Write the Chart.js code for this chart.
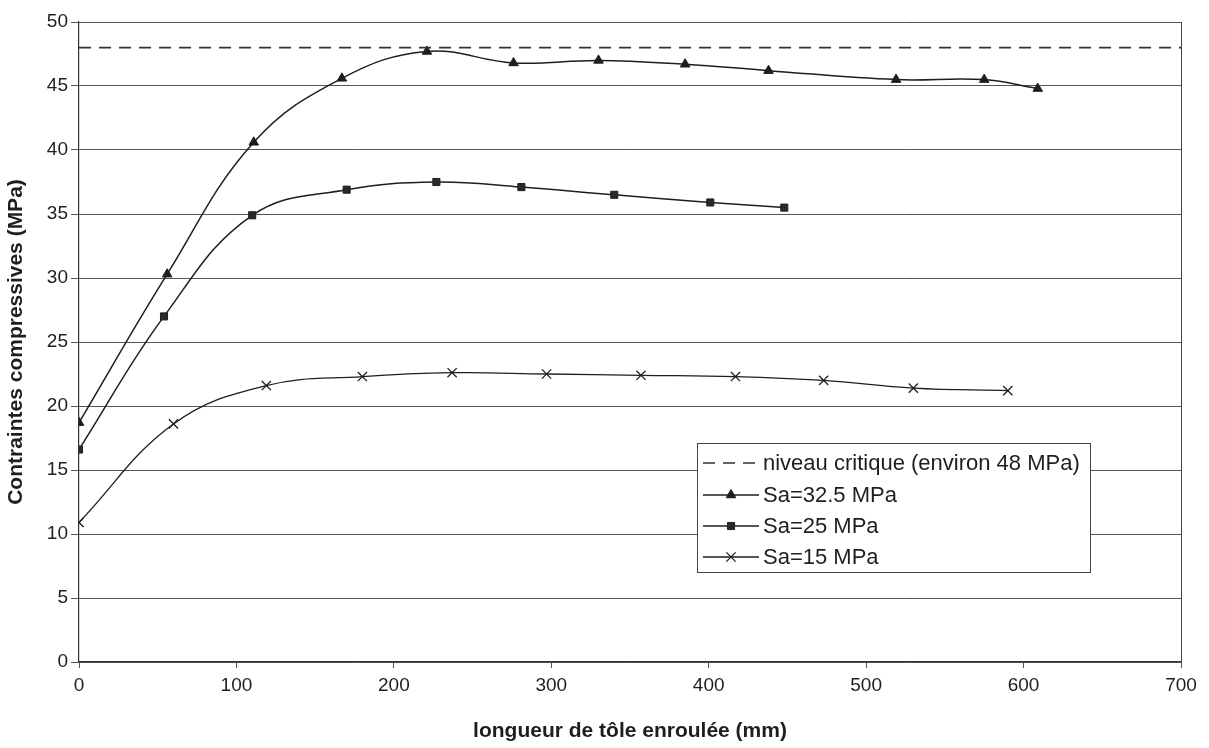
<!DOCTYPE html>
<html>
<head>
<meta charset="utf-8">
<script src="https://cdn.jsdelivr.net/npm/chart.js@4/dist/chart.umd.min.js"></script>
<style>
  html, body { margin: 0; padding: 0; background: #fff; }
  #wrap { width: 1209px; height: 748px; position: relative; }
</style>
</head>
<body>
<div id="wrap"><canvas id="c" width="1209" height="748"></canvas></div>
<script>
// ---- data ----
const critX = [0, 700];
const critY = [48, 48];
const sa325X = [0, 56, 111, 167, 221, 276, 330, 385, 438, 519, 575, 609];
const sa325Y = [18.7, 30.3, 40.6, 45.6, 47.7, 46.8, 47.0, 46.7, 46.2, 45.5, 45.5, 44.8];
const sa25X = [0, 54, 110, 170, 227, 281, 340, 401, 448];
const sa25Y = [16.6, 27.0, 34.9, 36.9, 37.5, 37.1, 36.5, 35.9, 35.5];
const sa15X = [0, 60, 119, 180, 237, 297, 357, 417, 473, 530, 590];
const sa15Y = [10.9, 18.6, 21.6, 22.3, 22.6, 22.5, 22.4, 22.3, 22.0, 21.4, 21.2];
const seriesLabels = ['niveau critique (environ 48 MPa)', 'Sa=32.5 MPa', 'Sa=25 MPa', 'Sa=15 MPa'];
const xTitle = 'longueur de tôle enroulée (mm)';
const yTitle = 'Contraintes compressives (MPa)';

const pts = (xs, ys) => xs.map((x, i) => ({ x: x, y: ys[i] }));
const FONT = "'Liberation Sans', Arial, sans-serif";
const INK = '#1e1e1e';

const legendPlugin = {
  id: 'boxLegend',
  afterDraw(chart) {
    const ctx = chart.ctx;
    const bx = 697, by = 443, bw = 393, bh = 129;
    ctx.save();
    ctx.fillStyle = '#fff';
    ctx.fillRect(bx, by, bw, bh);
    ctx.strokeStyle = '#444';
    ctx.lineWidth = 1;
    ctx.strokeRect(bx + 0.5, by + 0.5, bw, bh);
    const rows = [463, 495, 526, 557];
    ctx.font = '22px ' + FONT;
    ctx.textBaseline = 'middle';
    chart.data.datasets.forEach((ds, i) => {
      const y = rows[i];
      ctx.strokeStyle = ds.borderColor;
      ctx.lineWidth = ds.borderWidth;
      ctx.setLineDash(ds.borderDash || []);
      ctx.beginPath();
      ctx.moveTo(703, y);
      ctx.lineTo(759, y);
      ctx.stroke();
      ctx.setLineDash([]);
      if (ds.pointStyle && ds.pointRadius > 0) {
        ctx.fillStyle = ds.pointBackgroundColor;
        ctx.strokeStyle = ds.pointBorderColor;
        ctx.lineWidth = ds.pointBorderWidth || 1;
        Chart.helpers.drawPoint(ctx, {
          pointStyle: ds.pointStyle,
          radius: ds.pointRadius,
          borderWidth: ds.pointBorderWidth || 1,
          rotation: 0
        }, 731, y);
      }
      ctx.fillStyle = INK;
      ctx.fillText(ds.label, 763, y + 1);
    });
    ctx.restore();
  }
};

const ctx = document.getElementById('c').getContext('2d');
new Chart(ctx, {
  type: 'scatter',
  data: {
    datasets: [
      {
        label: seriesLabels[0],
        data: pts(critX, critY),
        showLine: true,
        borderColor: '#333',
        borderWidth: 1.6,
        borderDash: [12, 8],
        pointRadius: 0,
        pointStyle: false,
        tension: 0
      },
      {
        label: seriesLabels[1],
        data: pts(sa325X, sa325Y),
        showLine: true,
        borderColor: INK,
        borderWidth: 1.5,
        pointStyle: 'triangle',
        pointRadius: 5.5,
        pointBackgroundColor: INK,
        pointBorderColor: INK,
        pointBorderWidth: 1,
        tension: 0.4
      },
      {
        label: seriesLabels[2],
        data: pts(sa25X, sa25Y),
        showLine: true,
        borderColor: INK,
        borderWidth: 1.5,
        pointStyle: 'rect',
        pointRadius: 5,
        pointBackgroundColor: '#2a2a2a',
        pointBorderColor: INK,
        pointBorderWidth: 1,
        tension: 0.4
      },
      {
        label: seriesLabels[3],
        data: pts(sa15X, sa15Y),
        showLine: true,
        borderColor: INK,
        borderWidth: 1.3,
        pointStyle: 'crossRot',
        pointRadius: 6.5,
        pointBackgroundColor: INK,
        pointBorderColor: INK,
        pointBorderWidth: 1.3,
        tension: 0.4
      }
    ]
  },
  options: {
    responsive: false,
    animation: false,
    devicePixelRatio: 1,
    layout: { padding: { left: 0, right: 28, top: 22, bottom: 0 } },
    plugins: {
      legend: { display: false },
      tooltip: { enabled: false }
    },
    scales: {
      x: {
        type: 'linear',
        min: 0, max: 700,
        ticks: { stepSize: 100, color: INK, font: { family: FONT, size: 19 }, padding: 6, maxRotation: 0 },
        grid: {
          drawOnChartArea: true,
          color: (c) => (c.tick && c.tick.value === 700) ? '#444' : 'rgba(0,0,0,0)',
          tickColor: '#555',
          tickLength: 6,
          lineWidth: 1
        },
        border: { display: true, color: '#333', width: 1.2 },
        title: { display: true, text: xTitle, color: INK, font: { family: FONT, size: 21, weight: 'bold' }, padding: { top: 4, bottom: 4 } },
        afterFit: (s) => { s.height = 86; }
      },
      y: {
        type: 'linear',
        min: 0, max: 50,
        ticks: { stepSize: 5, color: INK, font: { family: FONT, size: 19 }, padding: 3 },
        grid: { color: '#555', lineWidth: 1, tickLength: 8, tickColor: '#555' },
        border: { display: true, color: '#333', width: 1.2 },
        title: { display: true, text: yTitle, color: INK, font: { family: FONT, size: 21, weight: 'bold' }, padding: { top: 4, bottom: 4 } },
        afterFit: (s) => { s.width = 79; }
      }
    }
  },
  plugins: [legendPlugin]
});
</script>
</body>
</html>
